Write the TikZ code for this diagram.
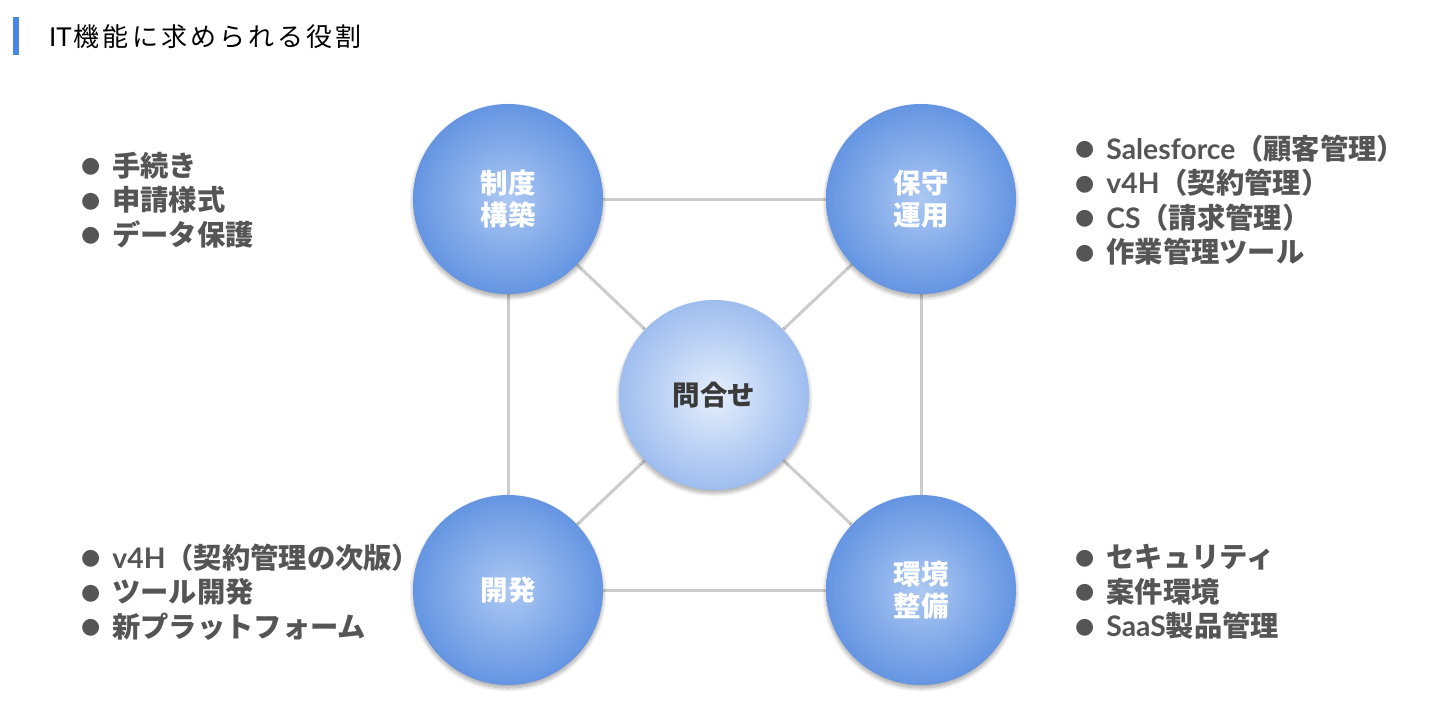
\documentclass[tikz,border=0pt]{standalone}
\usepackage{fontspec}
\setmainfont{Lato}
\newfontfamily\cjkf{Noto Sans CJK JP}
\newfontfamily\cjkt[LetterSpace=12]{Noto Sans CJK JP}
\newfontfamily\dvs{DejaVu Sans}
\usetikzlibrary{shadows.blur,backgrounds}
\definecolor{bluebar}{HTML}{4A86E8}
\definecolor{roleIn}{HTML}{ACC8F3}
\definecolor{roleOut}{HTML}{6595E2}
\definecolor{hubIn}{HTML}{E6EFFC}
\definecolor{hubOut}{HTML}{9EBDEF}
\definecolor{linegray}{HTML}{CCCCCC}
\definecolor{txtgray}{HTML}{555555}
\definecolor{hubtxt}{HTML}{3A3A3A}
\newcommand\J[1]{{\cjkf #1}}
\newcommand\bu{\raisebox{3.5pt}{\dvs\fontsize{22}{22}\selectfont ●}\hspace{12pt}}
\begin{document}
\begin{tikzpicture}[x=1pt,y=-1pt,
  circ/.style={circle, minimum size=190pt, inner sep=0pt, shading=radial, align=center,
    font=\fontsize{27.5}{31.5}\selectfont\bfseries\cjkf,
    blur shadow={shadow xshift=0pt, shadow yshift=-3pt, shadow blur radius=4pt, shadow blur steps=10, shadow opacity=35}},
  role/.style={circ, inner color=roleIn, outer color=roleOut, text=white},
  hub/.style={circ, inner color=hubIn, outer color=hubOut, text=hubtxt},
  conn/.style={draw=linegray, line width=3pt},
  list/.style={anchor=west, inner sep=0pt, align=left, text=txtgray,
    font=\fontsize{28.3}{34.5}\selectfont\bfseries}]
\useasboundingbox (0,0) rectangle (1440,723);
\fill[bluebar] (13,17) rectangle (19,55);
\node[anchor=west, inner sep=0pt, text=black, font=\fontsize{26}{26}\selectfont] (title) at (49,37) {IT\hspace{2pt}{\cjkt 機能に求められる役割}};

\node[role] (tl) at (508,199) {制度\\構築};
\node[role] (tr) at (921,199) {保守\\運用};
\node[role] (bl) at (508,590) {開発};
\node[role] (br) at (921,590) {環境\\整備};
\node[hub] (c) at (714,395) {問合せ};

\begin{scope}[on background layer]
\draw[conn] (tl) -- (tr);
\draw[conn] (bl) -- (br);
\draw[conn] (tl) -- (bl);
\draw[conn] (tr) -- (br);
\draw[conn] (tl) -- (c);
\draw[conn] (tr) -- (c);
\draw[conn] (bl) -- (c);
\draw[conn] (br) -- (c);
\end{scope}

\node[list] (ltl) at (81,200) {\bu\J{手続き}\\\bu\J{申請様式}\\\bu\J{データ保護}};
\node[list] (ltr) at (1075,200) {\bu Salesforce\J{（顧客管理）}\\\bu v4H\J{（契約管理）}\\\bu CS\J{（請求管理）}\\\bu\J{作業管理ツール}};
\node[list] (lbl) at (81,592) {\bu v4H\J{（契約管理の次版）}\\\bu\J{ツール開発}\\\bu\J{新プラットフォーム}};
\node[list] (lbr) at (1075,592) {\bu\J{セキュリティ}\\\bu\J{案件環境}\\\bu SaaS\J{製品管理}};
\end{tikzpicture}
\end{document}
